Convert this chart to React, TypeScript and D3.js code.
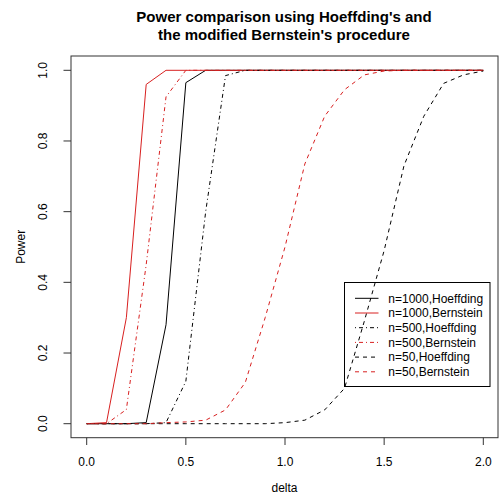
import React from 'react';
import * as d3 from 'd3';

const delta = [0, 0.1, 0.2, 0.3, 0.4, 0.5, 0.6, 0.7, 0.8, 0.9, 1.0, 1.1, 1.2, 1.3, 1.4, 1.5, 1.6, 1.7, 1.8, 1.9, 2.0];

const hoef1000 = [0, 0, 0, 0.003, 0.28, 0.965, 1, 1, 1, 1, 1, 1, 1, 1, 1, 1, 1, 1, 1, 1, 1];
const bern1000 = [0, 0.003, 0.3, 0.96, 1, 1, 1, 1, 1, 1, 1, 1, 1, 1, 1, 1, 1, 1, 1, 1, 1];
const hoef500 = [0, 0, 0, 0, 0.003, 0.12, 0.6, 0.985, 1, 1, 1, 1, 1, 1, 1, 1, 1, 1, 1, 1, 1];
const bern500 = [0, 0, 0.04, 0.45, 0.925, 1, 1, 1, 1, 1, 1, 1, 1, 1, 1, 1, 1, 1, 1, 1, 1];
const hoef50 = [0, 0, 0, 0, 0, 0, 0, 0, 0, 0, 0.003, 0.01, 0.039, 0.1, 0.29, 0.49, 0.73, 0.87, 0.963, 0.987, 0.998];
const bern50 = [0, 0, 0, 0, 0.003, 0.005, 0.01, 0.039, 0.117, 0.3, 0.5, 0.735, 0.87, 0.945, 0.987, 0.998, 1, 1, 1, 1, 1];

const seriesNames = ['n=1000,Hoeffding', 'n=1000,Bernstein', 'n=500,Hoeffding', 'n=500,Bernstein', 'n=50,Hoeffding', 'n=50,Bernstein'];
const seriesValues = [hoef1000, bern1000, hoef500, bern500, hoef50, bern50];
const seriesColors = ['#000000', '#d82020', '#000000', '#d82020', '#000000', '#d82020'];
const seriesDash = [null, null, '1,3,4,3', '1,3,4,3', '4,4', '4,4'];

const xTicks = [0, 0.5, 1.0, 1.5, 2.0];
const yTicks = [0, 0.2, 0.4, 0.6, 0.8, 1.0];

const W = 499;
const H = 495;
const FONT = '"Liberation Sans", Arial, sans-serif';

export default function App() {
  // plot box (R adds 4% on each side of the data range)
  const box = { left: 71, right: 498, top: 56, bottom: 437.7 };

  const x = d3.scaleLinear().domain([0, 2]).range([86.7, 483.3]);
  const y = d3.scaleLinear().domain([0, 1]).range([423.7, 70.3]);

  const line = d3
    .line<number>()
    .x((_, i) => x(delta[i]))
    .y((d) => y(d));

  const legend = { left: 344.5, top: 282.5, width: 145.5, height: 104, row0: 298.3, step: 14.7 };

  return (
    <svg
      width={W}
      height={H}
      style={{ position: 'absolute', left: 0, top: 0, background: '#fff' }}
      fontFamily={FONT}
    >
      {/* Title */}
      <text x={284} y={22} textAnchor='middle' fontSize={15} fontWeight='bold'>
        Power comparison using Hoeffding's and
      </text>
      <text x={284} y={40} textAnchor='middle' fontSize={15} fontWeight='bold'>
        the modified Bernstein's procedure
      </text>

      {/* Series */}
      {seriesValues.map((vals, i) => (
        <path
          key={seriesNames[i]}
          d={line(vals) || ''}
          fill='none'
          stroke={seriesColors[i]}
          strokeWidth={1}
          strokeDasharray={seriesDash[i] || undefined}
        />
      ))}

      {/* Box */}
      <rect
        x={box.left}
        y={box.top}
        width={box.right - box.left}
        height={box.bottom - box.top}
        fill='none'
        stroke='#333'
        strokeWidth={1}
      />

      {/* X axis */}
      {xTicks.map((t) => (
        <g key={'x' + t}>
          <line x1={x(t)} x2={x(t)} y1={box.bottom} y2={445} stroke='#333' />
          <text x={x(t)} y={466} textAnchor='middle' fontSize={12}>
            {t.toFixed(1)}
          </text>
        </g>
      ))}
      <text x={(box.left + box.right) / 2} y={492} textAnchor='middle' fontSize={12}>
        delta
      </text>

      {/* Y axis */}
      {yTicks.map((t) => (
        <g key={'y' + t}>
          <line x1={63.5} x2={box.left} y1={y(t)} y2={y(t)} stroke='#333' />
          <text
            transform={`translate(47,${y(t)}) rotate(-90)`}
            textAnchor='middle'
            fontSize={12}
          >
            {t.toFixed(1)}
          </text>
        </g>
      ))}
      <text
        transform={`translate(24.5,${(box.top + box.bottom) / 2}) rotate(-90)`}
        textAnchor='middle'
        fontSize={12}
      >
        Power
      </text>

      {/* Legend */}
      <rect
        x={legend.left}
        y={legend.top}
        width={legend.width}
        height={legend.height}
        fill='none'
        stroke='#000'
        strokeWidth={1}
      />
      {seriesNames.map((name, i) => {
        const ry = legend.row0 + i * legend.step;
        return (
          <g key={'leg' + name}>
            <line
              x1={355}
              x2={378.5}
              y1={ry}
              y2={ry}
              stroke={seriesColors[i]}
              strokeWidth={1}
              strokeDasharray={seriesDash[i] || undefined}
            />
            <text x={388.3} y={ry + 4.3} fontSize={12}>
              {name}
            </text>
          </g>
        );
      })}
    </svg>
  );
}
